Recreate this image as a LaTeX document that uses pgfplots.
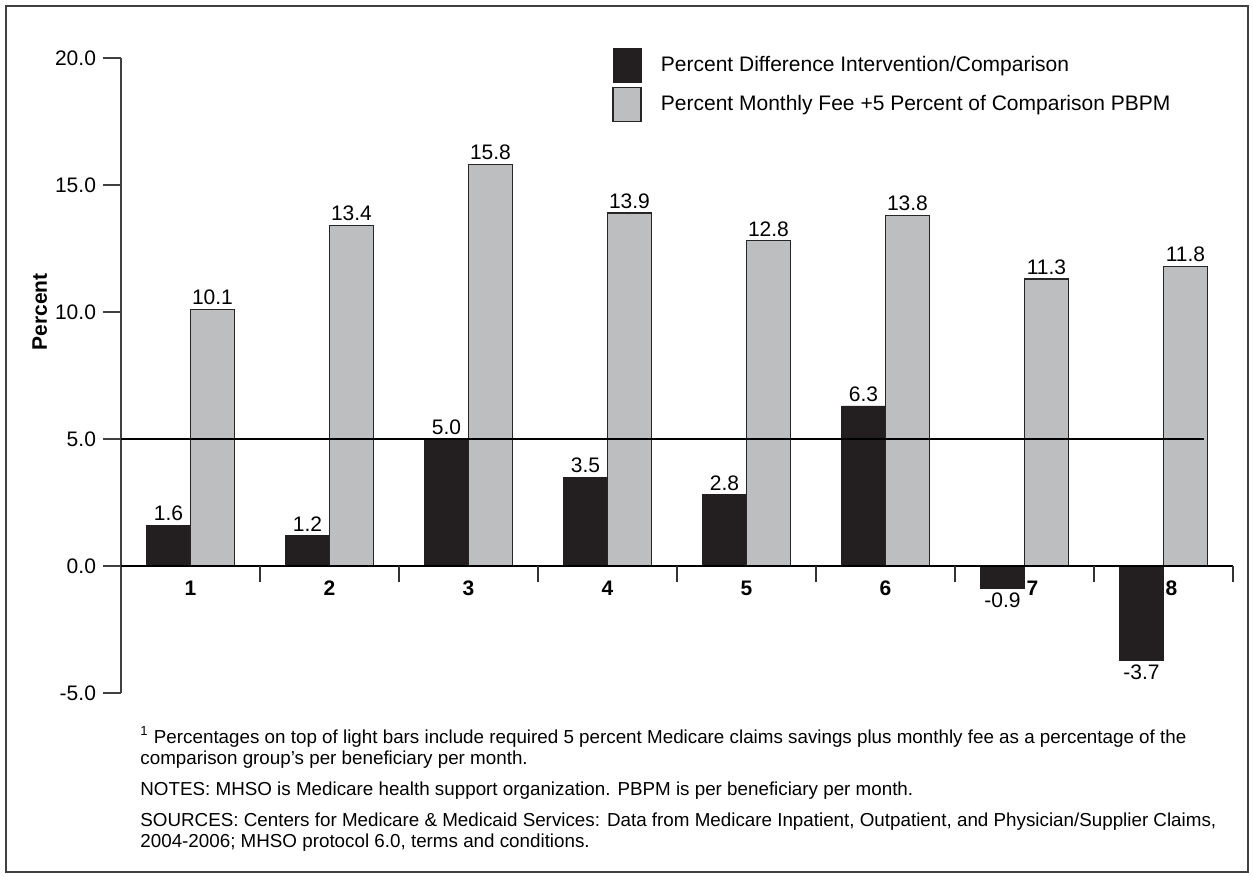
\documentclass[border=0pt]{standalone}
\usepackage{fontspec}
\setmainfont{Liberation Sans}
\usepackage{pgfplots}
\pgfplotsset{compat=1.18}
\definecolor{darkbar}{HTML}{231F20}
\definecolor{lightbar}{HTML}{BCBEC0}
\newcommand\fs{\fontsize{10.5}{12.6}\selectfont}
\newcommand\fn{\fontsize{9.4}{11}\selectfont}
\begin{document}
\begin{tikzpicture}
\path[use as bounding box] (0,0) rectangle (626.5pt,-438.5pt);
\draw[line width=0.7pt, black!75] (3pt,-3pt) rectangle (624pt,-436pt);
\begin{axis}[
  at={(60.5pt,-346.5pt)}, anchor=south west,
  scale only axis, width=556pt, height=317.5pt,
  xmin=0.5, xmax=8.5, ymin=-5, ymax=20,
  clip=false,
  axis y line*=left, axis x line*=bottom,
  x axis line style={draw=none},
  y axis line style={black!75, line width=0.6pt},
  tick align=outside,
  major tick length=9pt,
  ytick={-5,0,5,10,15,20},
  ytick style={black!75, line width=0.6pt},
  /pgf/number format/assume math mode=true,
  yticklabel style={font=\fs, /pgf/number format/fixed, /pgf/number format/fixed zerofill, /pgf/number format/precision=1},
  xtick={1,2,3,4,5,6,7,8},
  xticklabels={1,2,3,4,5,6,\hspace{8pt}7,\hspace{8pt}8},
  xtick style={draw=none},
  xticklabel style={font=\fs\bfseries, anchor=north, yshift=68.5pt},
  every axis y label/.style={at={(axis description cs:-0.073,0.6)}, rotate=90, anchor=center, font=\fs\bfseries},
  ylabel={Percent},
  legend style={draw=none, fill=none, at={(0.4415,1.0157)}, anchor=north west, inner sep=0pt, row sep=2pt, font=\fs, nodes={inner sep=0pt}},
  legend cell align=left,
  legend image code/.code={\draw[#1] (0pt,-8.5pt) rectangle (14pt,8.5pt); \path[draw=none, fill=none] (24pt,0pt);},
  nodes near coords,
  every node near coord/.append style={font=\fs, inner sep=2pt, /pgf/number format/fixed, /pgf/number format/fixed zerofill, /pgf/number format/precision=1},
]
\addplot[ybar, bar width=0.3165, bar shift=0pt, fill=darkbar, draw=darkbar, line width=0.4pt]
  coordinates {(0.842,1.6) (1.842,1.2) (2.842,5.0) (3.842,3.5) (4.842,2.8) (5.842,6.3) (6.842,-0.9) (7.842,-3.7)};
\addlegendentry{Percent Difference Intervention/Comparison}
\addplot[ybar, bar width=0.3165, bar shift=0pt, fill=lightbar, draw=black!85, line width=0.6pt]
  coordinates {(1.158,10.1) (2.158,13.4) (3.158,15.8) (4.158,13.9) (5.158,12.8) (6.158,13.8) (7.158,11.3) (8.158,11.8)};
\addlegendentry{Percent Monthly Fee +5 Percent of Comparison PBPM}
\draw[black, line width=0.6pt] (axis cs:0.5,0) -- (axis cs:8.5,0);
\draw[black, line width=1.1pt] (axis cs:0.5,5) -- (axis cs:8.29,5);
\pgfplotsinvokeforeach{1.5,2.5,3.5,4.5,5.5,6.5,7.5,8.5}{
  \draw[black!80, line width=0.6pt] (axis cs:#1,0) -- (axis cs:#1,-0.63);
}
\end{axis}
\node[anchor=base west, font=\fn, inner sep=0pt] at (70pt,-371.5pt) {\textsuperscript{1} Percentages on top of light bars include required 5 percent Medicare claims savings plus monthly fee as a percentage of the};
\node[anchor=base west, font=\fn, inner sep=0pt] at (70pt,-382pt) {comparison group’s per beneficiary per month.};
\node[anchor=base west, font=\fn, inner sep=0pt] at (70pt,-397.5pt) {NOTES: MHSO is Medicare health support organization. PBPM is per beneficiary per month.};
\node[anchor=base west, font=\fn, inner sep=0pt] at (70pt,-413pt) {SOURCES: Centers for Medicare \& Medicaid Services: Data from Medicare Inpatient, Outpatient, and Physician/Supplier Claims,};
\node[anchor=base west, font=\fn, inner sep=0pt] at (70pt,-423.5pt) {2004-2006; MHSO protocol 6.0, terms and conditions.};
\end{tikzpicture}
\end{document}
